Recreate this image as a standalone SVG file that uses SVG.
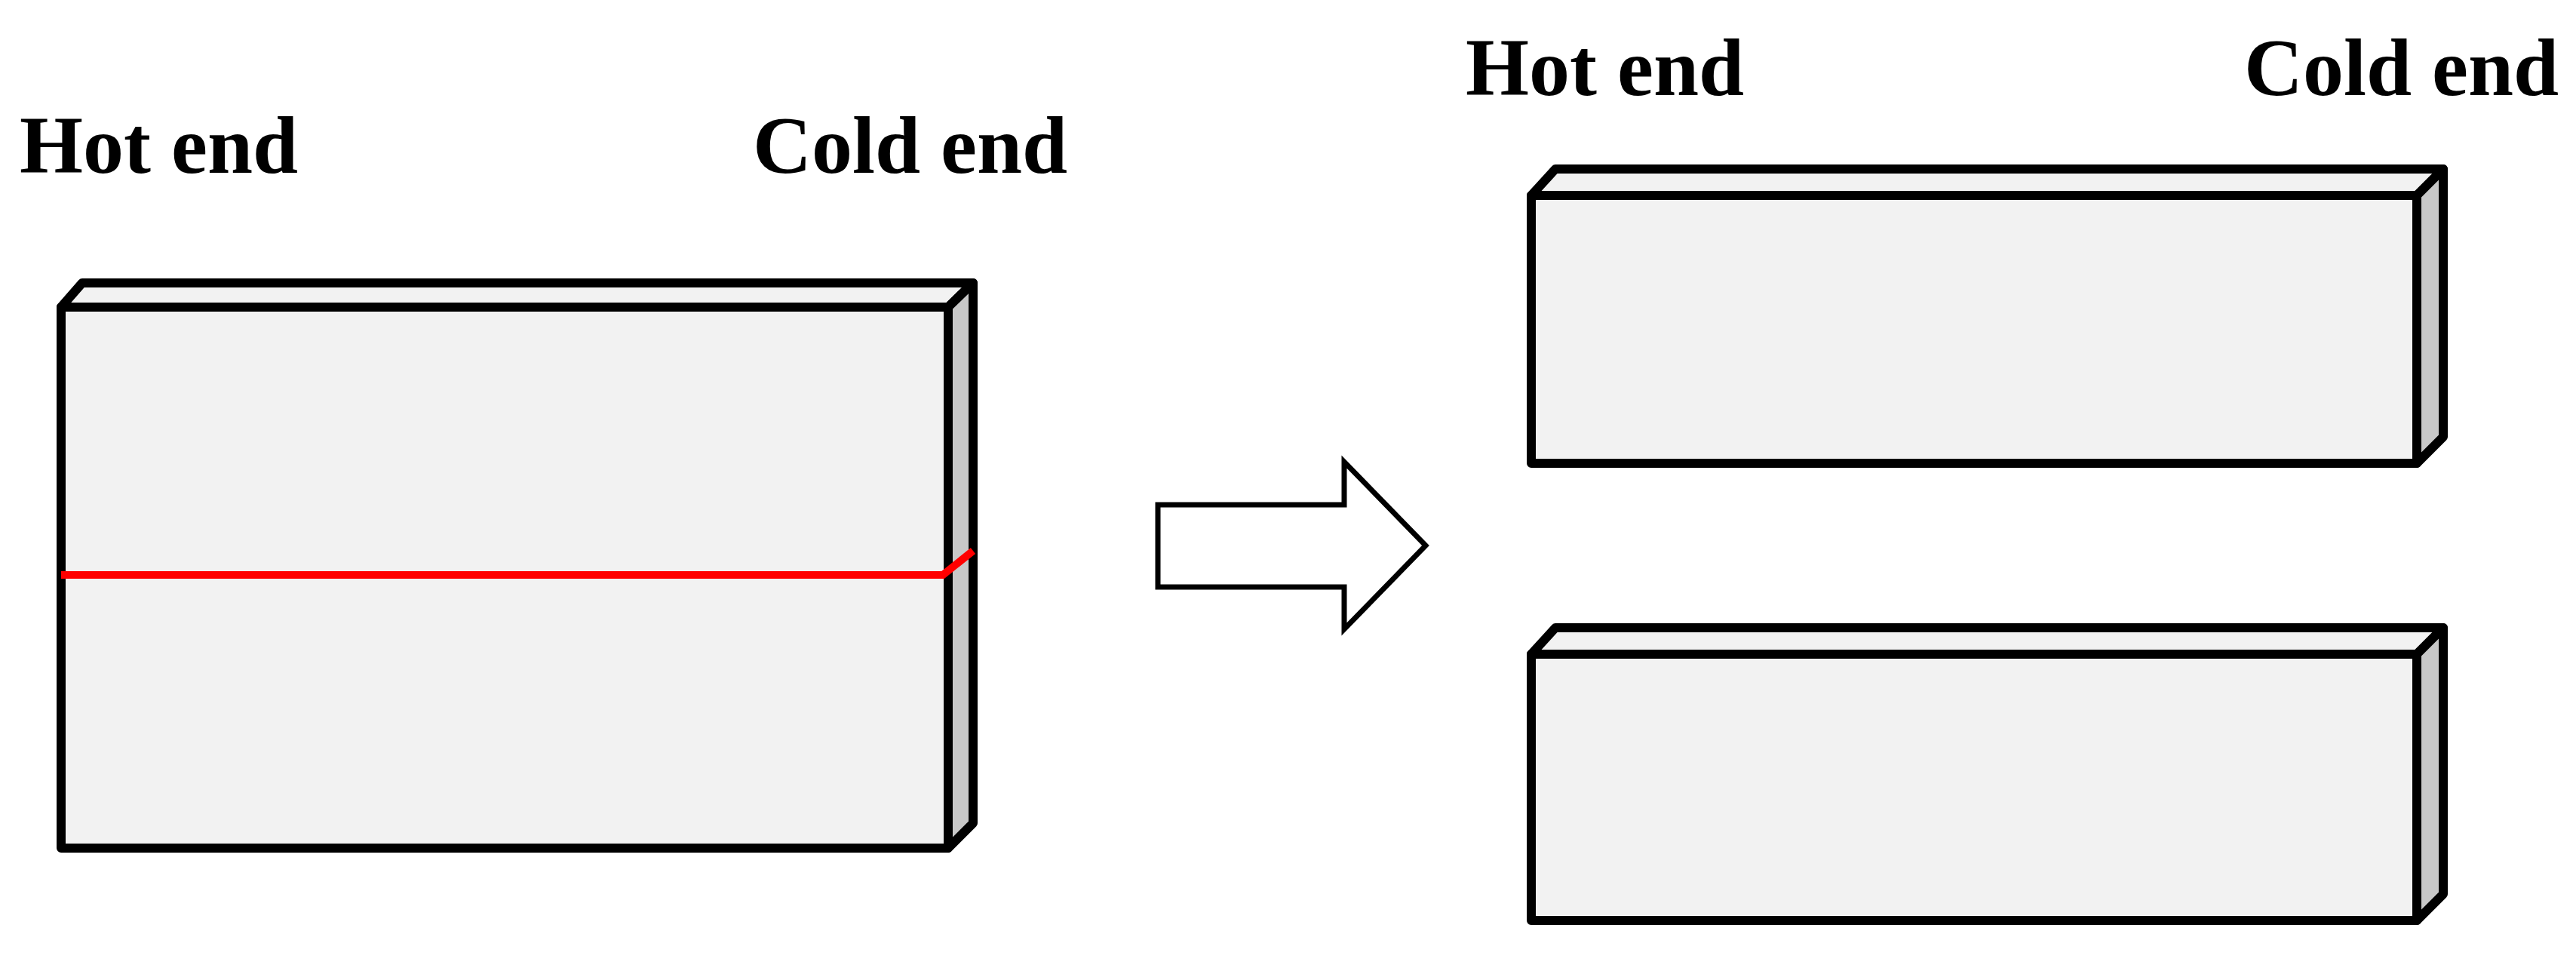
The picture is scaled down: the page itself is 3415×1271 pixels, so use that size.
<svg xmlns="http://www.w3.org/2000/svg" width="3415" height="1271" viewBox="0 0 3415 1271">
<style>
.f{fill:#f2f2f2;stroke:#000;stroke-width:12;stroke-linejoin:round}
.s{fill:#c8c8c8;stroke:#000;stroke-width:12;stroke-linejoin:round}
.t{font-family:"Liberation Serif",serif;font-weight:bold;font-size:108px;fill:#000}
</style>
<rect width="3415" height="1271" fill="#fff"/>
<g id="left-plate">
<polygon class="f" points="81,407 109,375 1290,375 1257,407"/>
<polygon class="s" points="1257,407 1290,375 1290,1091 1257,1124"/>
<rect class="f" x="81" y="407" width="1176" height="717"/>
<polyline points="81,762 1250,762 1290,730" fill="none" stroke="#ff0000" stroke-width="10"/>
</g>
<g id="labels-left">
<text class="t" x="26" y="229">Hot end</text>
<text class="t" x="998" y="229">Cold end</text>
</g>
<g id="connectors">
<polygon points="1535,669 1782,669 1782,612 1890,723 1782,834 1782,778 1535,778" fill="#fff" stroke="#000" stroke-width="7"/>
</g>
<g id="labels-right">
<text class="t" x="1943" y="126">Hot end</text>
<text class="t" x="2975" y="126">Cold end</text>
</g>
<g id="top-piece">
<polygon class="f" points="2030,259 2062,224 3239,224 3204,259"/>
<polygon class="s" points="3204,259 3239,224 3239,579 3204,614"/>
<rect class="f" x="2030" y="259" width="1174" height="355"/>
</g>
<g id="bottom-piece">
<polygon class="f" points="2030,867 2062,832 3239,832 3204,867"/>
<polygon class="s" points="3204,867 3239,832 3239,1185 3204,1220"/>
<rect class="f" x="2030" y="867" width="1174" height="353"/>
</g>
</svg>
